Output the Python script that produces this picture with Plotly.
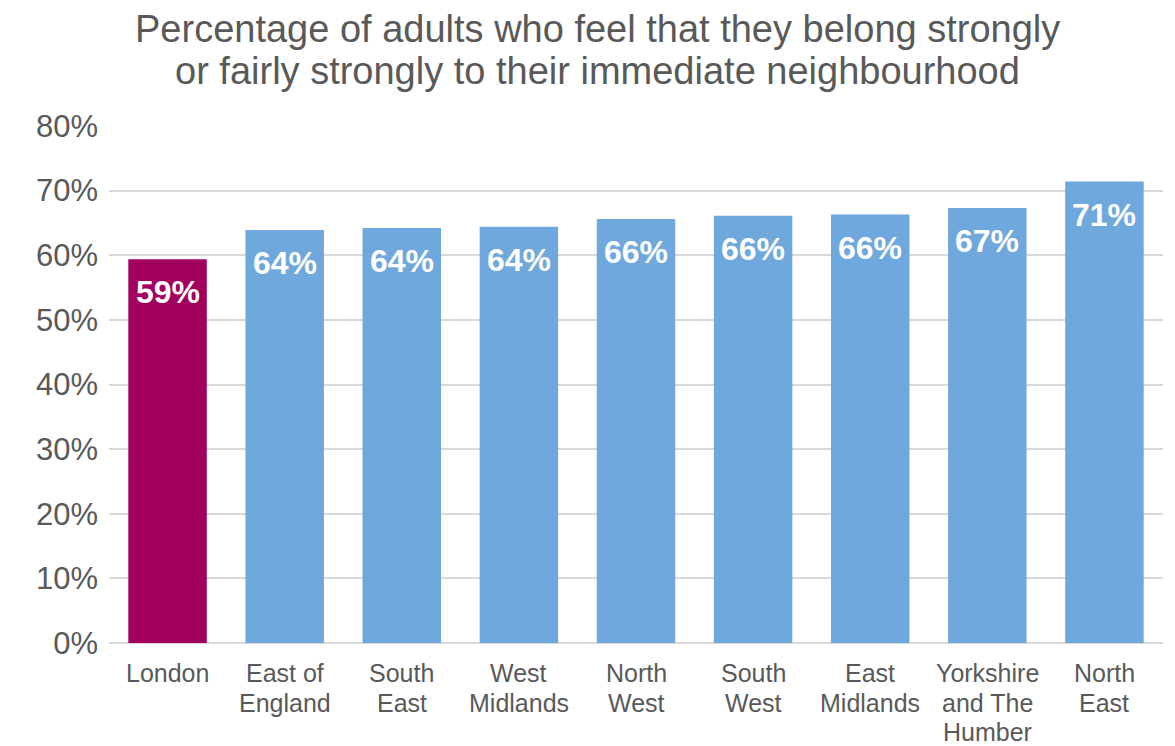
import plotly.graph_objects as go

categories = ["London", "East of<br>England", "South<br>East", "West<br>Midlands", "North<br>West",
              "South<br>West", "East<br>Midlands", "Yorkshire<br>and The<br>Humber", "North<br>East"]
values = [0.594, 0.639, 0.642, 0.644, 0.656, 0.661, 0.663, 0.673, 0.714]
colors = ["#A2005F"] + ["#6FA8DC"] * 8
title_lines = ["Percentage of adults who feel that they belong strongly",
               "or fairly strongly to their immediate neighbourhood"]

# page has an 8px body margin, so the figure is offset by 8px
OFF = 8
W, H = 1175 - OFF, 746 - OFF
plot_top, plot_bottom, plot_left, plot_right = 126 - OFF, 643 - OFF, 109 - OFF, 1163 - OFF
FONT = "Liberation Sans, Arial"
GREY = "#595959"

fig = go.Figure()
fig.add_trace(go.Bar(x=categories, y=values, marker=dict(color=colors, line=dict(width=0)),
                     hoverinfo="skip"))

# value labels inside the top of each bar
for c, v in zip(categories, values):
    fig.add_annotation(x=c, y=v, text=f"{round(v*100):.0f}%", showarrow=False,
                       yanchor="middle", yshift=-33,
                       font=dict(family=FONT, size=32, color="white", weight="bold"))

# category labels (one annotation per line for tighter line spacing)
for c in categories:
    for i, line in enumerate(c.split("<br>")):
        fig.add_annotation(x=c, y=0, yref="y", text=line, showarrow=False,
                           yanchor="middle", yshift=-(30 + 29.5 * i),
                           font=dict(family=FONT, size=25, color=GREY))

# title, two lines with tight spacing
title_px = [(597 - OFF, 29 - OFF), (597 - OFF, 71 - OFF)]
for line, (px, py) in zip(title_lines, title_px):
    fig.add_annotation(x=(px - plot_left) / (plot_right - plot_left), xref="paper",
                       y=(plot_bottom - py) / (plot_bottom - plot_top), yref="paper",
                       text=line, showarrow=False, xanchor="center", yanchor="middle",
                       font=dict(family=FONT, size=38, color=GREY))

fig.update_layout(
    width=W, height=H,
    margin=dict(l=plot_left, r=W - plot_right, t=plot_top, b=H - plot_bottom, autoexpand=False),
    paper_bgcolor="white", plot_bgcolor="white",
    bargap=0.33,
    showlegend=False,
    font=dict(family=FONT, color=GREY),
)
fig.update_yaxes(range=[0, 0.8], dtick=0.1, tickformat=".0%", showgrid=True,
                 gridcolor="#D9D9D9", gridwidth=1.5, zeroline=True, zerolinecolor="#D9D9D9",
                 zerolinewidth=1.5, tickfont=dict(size=31, color=GREY), ticks="", ticklen=0,
                 ticklabelstandoff=10, automargin=False, fixedrange=True)
fig.update_xaxes(showticklabels=False, ticks="", showline=False,
                 automargin=False, fixedrange=True)

fig.write_html("out.html")
